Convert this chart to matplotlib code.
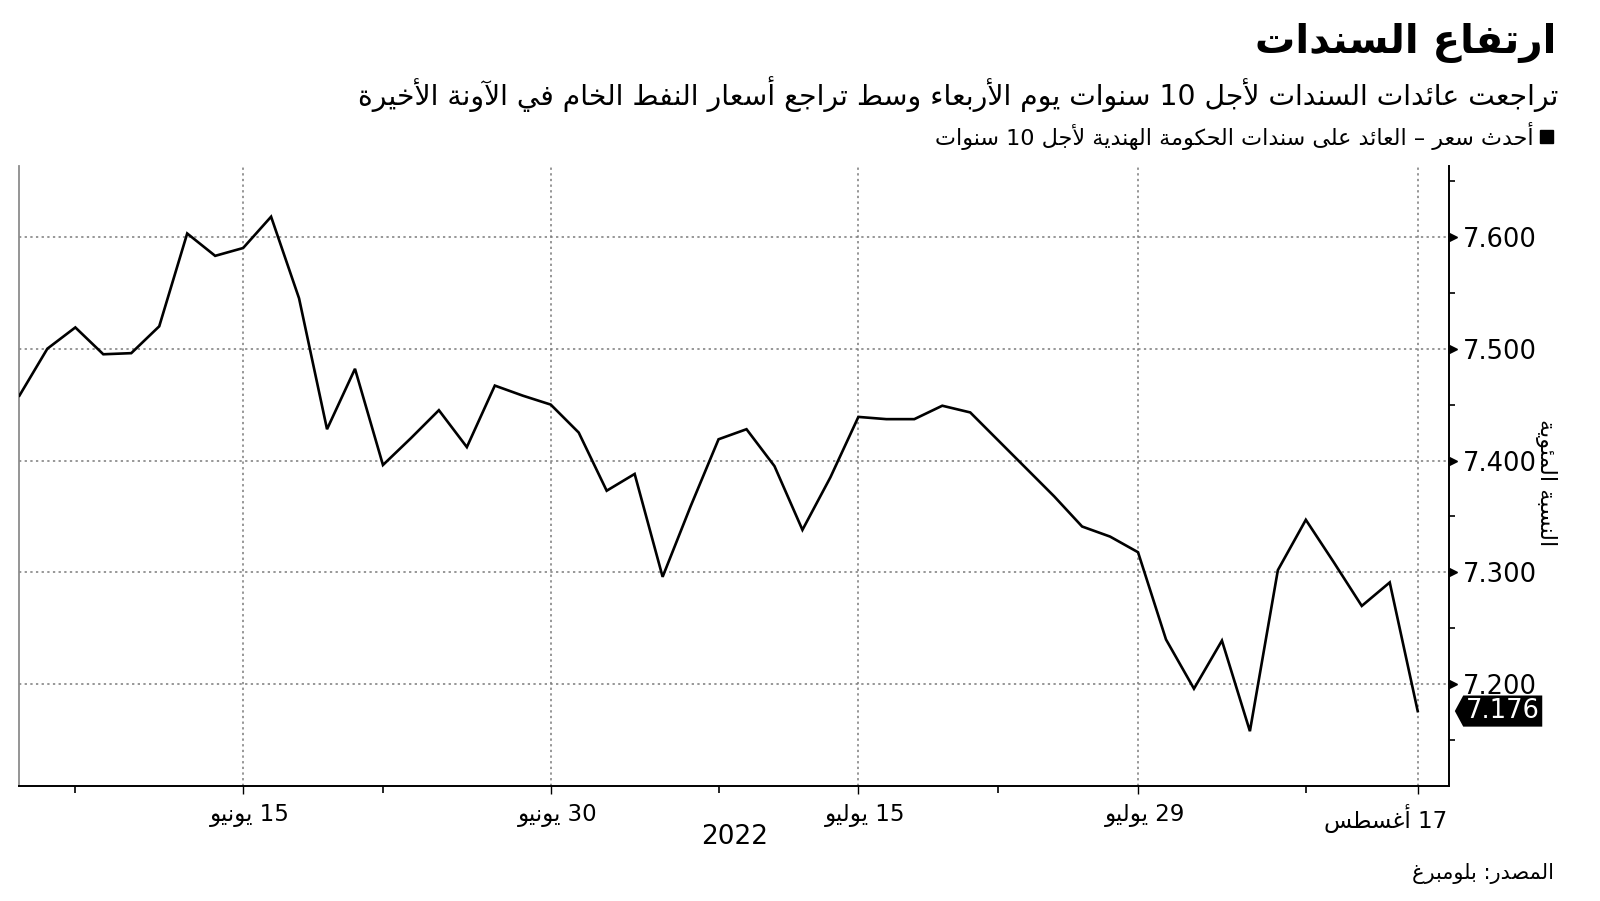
import numpy as np
import matplotlib.pyplot as plt
import matplotlib.transforms as mtransforms
from matplotlib.path import Path

plt.rcParams['font.family'] = ['DejaVu Sans']

# trading days (Indian market holidays 9, 15, 16 Aug are missing)
dates = ['2022-06-03', '2022-06-06', '2022-06-07', '2022-06-08', '2022-06-09', '2022-06-10',
         '2022-06-13', '2022-06-14', '2022-06-15', '2022-06-16', '2022-06-17',
         '2022-06-20', '2022-06-21', '2022-06-22', '2022-06-23', '2022-06-24',
         '2022-06-27', '2022-06-28', '2022-06-29', '2022-06-30', '2022-07-01',
         '2022-07-04', '2022-07-05', '2022-07-06', '2022-07-07', '2022-07-08',
         '2022-07-11', '2022-07-12', '2022-07-13', '2022-07-14', '2022-07-15',
         '2022-07-18', '2022-07-19', '2022-07-20', '2022-07-21', '2022-07-22',
         '2022-07-25', '2022-07-26', '2022-07-27', '2022-07-28', '2022-07-29',
         '2022-08-01', '2022-08-02', '2022-08-03', '2022-08-04', '2022-08-05',
         '2022-08-08', '2022-08-10', '2022-08-11', '2022-08-12', '2022-08-17']
yields = [7.458, 7.500, 7.519, 7.495, 7.496, 7.520,
          7.603, 7.583, 7.590, 7.618, 7.545,
          7.428, 7.482, 7.396, 7.420, 7.445,
          7.412, 7.467, 7.458, 7.450, 7.425,
          7.373, 7.388, 7.296, 7.359, 7.419,
          7.428, 7.395, 7.338, 7.385, 7.439,
          7.437, 7.437, 7.449, 7.443, 7.418,
          7.393, 7.368, 7.341, 7.332, 7.318,
          7.240, 7.196, 7.239, 7.158, 7.302,
          7.347, 7.309, 7.270, 7.291, 7.176]

major_dates = ['2022-06-15', '2022-06-30', '2022-07-15', '2022-07-29', '2022-08-17']
major_labels = ['15 يونيو', '30 يونيو', '15 يوليو', '29 يوليو', '17 أغسطس']
minor_dates = ['2022-06-07', '2022-06-22', '2022-07-08', '2022-07-22', '2022-08-08']
y_major = [7.2, 7.3, 7.4, 7.5, 7.6]
y_minor = [7.15, 7.25, 7.35, 7.45, 7.55, 7.65]

title = 'ارتفاع السندات'
subtitle = 'تراجعت عائدات السندات لأجل 10 سنوات يوم الأربعاء وسط تراجع أسعار النفط الخام في الآونة الأخيرة'
legend_text = 'أحدث سعر – العائد على سندات الحكومة الهندية لأجل 10 سنوات'
ylabel = 'النسبة المئوية'
year_text = '2022'
source = 'المصدر: بلومبرغ'

# --- small arabic shaper + rtl ordering (matplotlib does no shaping) ---
DUAL = set([0x626, 0x628, 0x62A, 0x62B, 0x62C, 0x62D, 0x62E, 0x633, 0x634, 0x635, 0x636,
            0x637, 0x638, 0x639, 0x63A, 0x641, 0x642, 0x643, 0x644, 0x645, 0x646, 0x647, 0x64A])
RIGHT = set([0x622, 0x623, 0x624, 0x625, 0x627, 0x629, 0x62F, 0x630, 0x631, 0x632, 0x648, 0x649])
BASE = {0x621: 0xFE80, 0x622: 0xFE81, 0x623: 0xFE83, 0x624: 0xFE85, 0x625: 0xFE87, 0x626: 0xFE89,
        0x627: 0xFE8D, 0x628: 0xFE8F, 0x629: 0xFE93, 0x62A: 0xFE95, 0x62B: 0xFE99, 0x62C: 0xFE9D,
        0x62D: 0xFEA1, 0x62E: 0xFEA5, 0x62F: 0xFEA9, 0x630: 0xFEAB, 0x631: 0xFEAD, 0x632: 0xFEAF,
        0x633: 0xFEB1, 0x634: 0xFEB5, 0x635: 0xFEB9, 0x636: 0xFEBD, 0x637: 0xFEC1, 0x638: 0xFEC5,
        0x639: 0xFEC9, 0x63A: 0xFECD, 0x641: 0xFED1, 0x642: 0xFED5, 0x643: 0xFED9, 0x644: 0xFEDD,
        0x645: 0xFEE1, 0x646: 0xFEE5, 0x647: 0xFEE9, 0x648: 0xFEED, 0x649: 0xFEEF, 0x64A: 0xFEF1}
LAM_ALEF = {0x622: 0xFEF5, 0x623: 0xFEF7, 0x625: 0xFEF9, 0x627: 0xFEFB}


def shape(s):
    items = []
    i = 0
    while i < len(s):
        c = ord(s[i])
        if c == 0x644 and i + 1 < len(s) and ord(s[i + 1]) in LAM_ALEF:
            items.append(('LA', ord(s[i + 1])))
            i += 2
        else:
            items.append(('C', c))
            i += 1

    def joins_next(it):
        return it[0] == 'C' and it[1] in DUAL

    def joinable(it):
        return it[0] == 'LA' or it[1] in DUAL or it[1] in RIGHT

    out = []
    for k, it in enumerate(items):
        prev = items[k - 1] if k > 0 else None
        nxt = items[k + 1] if k + 1 < len(items) else None
        jp = prev is not None and joins_next(prev) and joinable(it)
        if it[0] == 'LA':
            out.append(chr(LAM_ALEF[it[1]] + (1 if jp else 0)))
            continue
        c = it[1]
        if c not in BASE:
            out.append(chr(c))
            continue
        jn = c in DUAL and nxt is not None and joinable(nxt)
        b = BASE[c]
        if jp and jn:
            out.append(chr(b + 3))
        elif jp:
            out.append(chr(b + 1))
        elif jn:
            out.append(chr(b + 2))
        else:
            out.append(chr(b))
    return ''.join(out)


def ar(s):
    s = shape(s)
    runs = []
    for ch in s:
        ltr = ch.isascii() and (ch.isalnum() or ch == '.')
        if runs and runs[-1][0] == ltr:
            runs[-1][1] += ch
        else:
            runs.append([ltr, ch])
    return ''.join(t if ltr else t[::-1] for ltr, t in reversed(runs))


def tag_box(x0, y0, width, height, mutation_size):
    pad = 0.1 * mutation_size
    x0 -= pad
    y0 -= pad
    width += 2 * pad
    height += 2 * pad
    tip = 0.27 * height
    verts = [(x0 - tip, y0 + height / 2), (x0, y0), (x0 + width, y0),
             (x0 + width, y0 + height), (x0, y0 + height), (x0 - tip, y0 + height / 2)]
    codes = [Path.MOVETO, Path.LINETO, Path.LINETO, Path.LINETO, Path.LINETO, Path.CLOSEPOLY]
    return Path(verts, codes)


W, H = 1600, 901
fig = plt.figure(figsize=(16, 9.01), dpi=100)
ax = fig.add_axes([19.4 / W, 1 - 786 / H, (1449.3 - 19.4) / W, (786 - 165.7) / H])

x = np.arange(len(dates))
ax.plot(x, yields, color='black', lw=1.9, solid_joinstyle='miter', zorder=3)

ax.set_xlim(0, 51.13)
ax.set_ylim(7.109, 7.6636)

ax.set_xticks([dates.index(d) for d in major_dates])
ax.set_xticklabels([ar(l) for l in major_labels])
ax.set_xticks([dates.index(d) for d in minor_dates], minor=True)
ax.tick_params(axis='x', which='major', length=6, width=1, pad=7, labelsize=16.5)
ax.tick_params(axis='x', which='minor', length=5, width=1.2)
xlabels = ax.get_xticklabels()
for lbl in xlabels[:-1]:
    lbl.set_transform(lbl.get_transform() + mtransforms.ScaledTranslation(0.07, 0, fig.dpi_scale_trans))
xlabels[-1].set_ha('right')
xlabels[-1].set_transform(xlabels[-1].get_transform() +
                          mtransforms.ScaledTranslation(0.30, 0, fig.dpi_scale_trans))

ax.yaxis.tick_right()
ax.set_yticks(y_major)
ax.set_yticklabels([f'{v:.3f}' for v in y_major])
ax.set_yticks(y_minor, minor=True)
ax.tick_params(axis='y', which='major', length=0, pad=10, labelsize=18.5)
ax.tick_params(axis='y', which='minor', length=4, width=1.2)

# small triangles as major y ticks
tri_tr = ax.get_yaxis_transform() + mtransforms.ScaledTranslation(0.035, 0, fig.dpi_scale_trans)
ax.plot(np.ones(len(y_major)), y_major, ls='none', marker='>', ms=6, color='black',
        transform=tri_tr, clip_on=False)

ax.grid(True, which='major', color='#7a7a7a', lw=1.1, ls=(0, (1.5, 2.2)))

ax.spines['top'].set_visible(False)
ax.spines['left'].set_color('#8c8c8c')
ax.spines['left'].set_linewidth(1.3)
ax.spines['bottom'].set_linewidth(1.4)
ax.spines['right'].set_linewidth(1.4)

# last value tag
ax.text(1.0, yields[-1], f'{yields[-1]:.3f}', transform=ax.get_yaxis_transform() +
        mtransforms.ScaledTranslation(0.165, 0, fig.dpi_scale_trans),
        color='white', fontsize=18.5, ha='left', va='center', clip_on=False,
        bbox=dict(boxstyle=tag_box, fc='black', ec='none'))

fig.text(1556 / W, 1 - 43 / H, ar(title), ha='right', va='center', fontsize=29, weight='bold')
fig.text(1558 / W, 1 - 94 / H, ar(subtitle), ha='right', va='center', fontsize=20.3)
fig.patches.append(plt.Rectangle((1540 / W, 1 - 143 / H), 13 / W, 13 / H,
                                 transform=fig.transFigure, color='black'))
fig.text(1534 / W, 1 - 136 / H, ar(legend_text), ha='right', va='center', fontsize=16)
fig.text(1546 / W, 1 - 483 / H, ar(ylabel), ha='center', va='center', fontsize=16, rotation=270)
fig.text(735 / W, 1 - 837 / H, year_text, ha='center', va='center', fontsize=19)
fig.text(1554 / W, 1 - 874 / H, ar(source), ha='right', va='center', fontsize=15)

fig.savefig('out.png', dpi=100)
